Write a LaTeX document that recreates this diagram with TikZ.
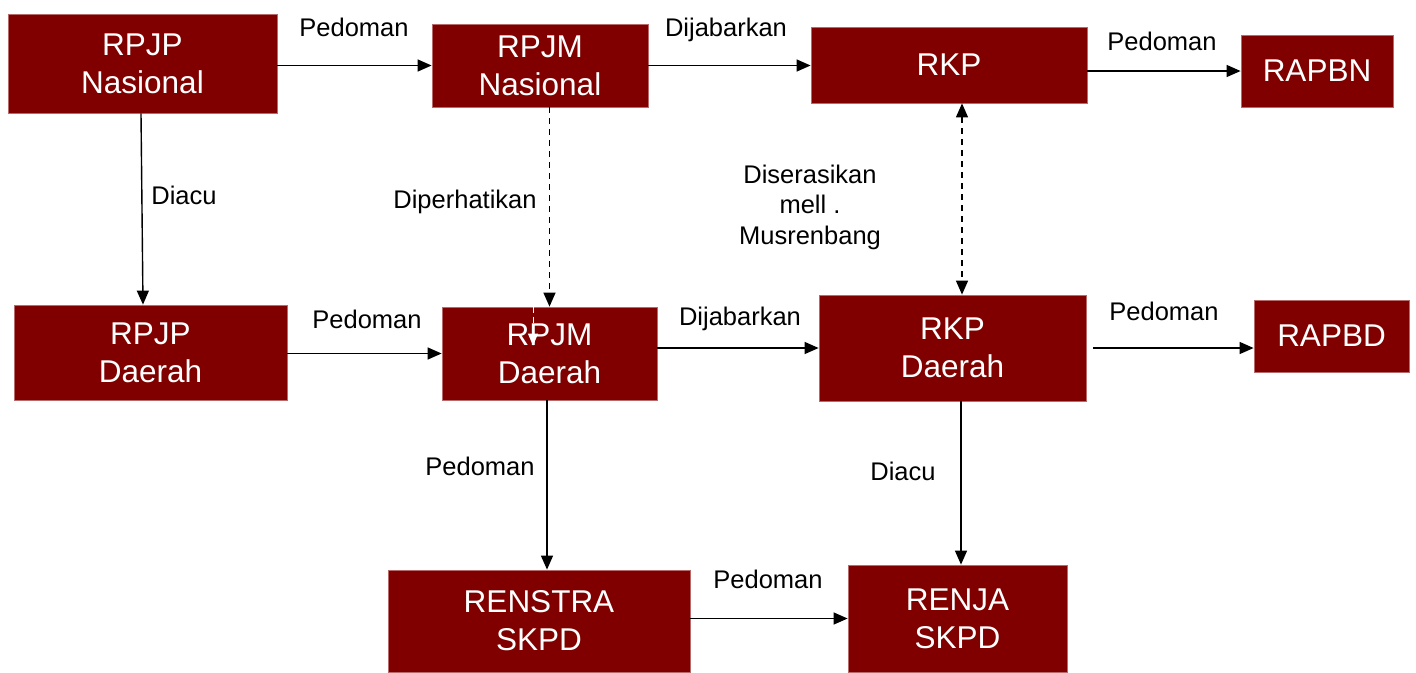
\documentclass[tikz,border=0pt]{standalone}
\usepackage{fontspec}
\setmainfont{Liberation Sans}
\usetikzlibrary{arrows.meta}
\definecolor{boxred}{HTML}{800000}
\definecolor{boxedge}{HTML}{B86A6A}
\begin{document}
\begin{tikzpicture}[x=1pt,y=-1pt,
  box/.style={draw=boxedge,line width=0.8pt,fill=boxred,text=white,align=center,
    inner sep=0pt,font=\fontsize{31.5}{38}\selectfont},
  lbl/.style={anchor=base,align=center,inner sep=0pt,font=\fontsize{25.5}{30.5}\selectfont},
  arr/.style={line width=1.4pt,-{Triangle[length=14pt,width=12pt]}},
  darr/.style={line width=1.4pt,dash pattern=on 6pt off 5pt,-{Triangle[length=14pt,width=12pt]}},
  dbl/.style={line width=1.4pt,dash pattern=on 6pt off 5pt,{Triangle[length=14pt,width=12pt]}-{Triangle[length=14pt,width=12pt]}}]
\useasboundingbox (0,0) rectangle (1416,672);
\node[box,minimum width=269pt,minimum height=99pt] (rpjpn) at (142.5,63.5) {RPJP\\Nasional};
\node[box,minimum width=216pt,minimum height=83pt] (rpjmn) at (540,65.5) {RPJM\\Nasional};
\node[box,minimum width=276pt,minimum height=76pt] (rkp) at (949,65) {RKP};
\node[box,minimum width=152pt,minimum height=72pt] (rapbn) at (1317,71) {RAPBN};
\node[box,minimum width=273pt,minimum height=95pt] (rpjpd) at (150.5,352.5) {RPJP\\Daerah};
\node[box,minimum width=215pt,minimum height=93pt] (rpjmd) at (549.5,353.5) {RPJM\\Daerah};
\node[box,minimum width=267pt,minimum height=106pt] (rkpd) at (952.5,348) {RKP\\Daerah};
\node[box,minimum width=155pt,minimum height=72pt] (rapbd) at (1331.5,336) {RAPBD};
\node[box,minimum width=302pt,minimum height=102pt] (renstra) at (539,621) {RENSTRA\\SKPD};
\node[box,minimum width=219pt,minimum height=107pt] (renja) at (957.5,618.5) {RENJA\\SKPD};

% connectors
\draw[arr] (rpjpn.east |- rpjmn.west) -- (rpjmn.west);
\draw[arr] (rpjmn.east) -- (rkp.west |- rpjmn.east);
\draw[arr] (rkp.east |- rapbn.west) -- (rapbn.west);
\draw[arr] ([xshift=-1.5pt]rpjpn.south) -- ([xshift=-7.5pt]rpjpd.north);
\draw[darr] (rpjmd.north |- rpjmn.south) -- (rpjmd.north);
\draw[dbl] ([xshift=13pt]rkp.south) -- ([xshift=9.5pt]rkpd.north);
\draw[arr] (rpjpd.east |- rpjmd.west) -- (rpjmd.west);
\draw[arr] (rpjmd.east |- rkpd.west) -- (rkpd.west);
\draw[arr] ([xshift=7pt]rkpd.east) -- (rapbd.west |- rkpd.east);
\draw[arr] ([xshift=-2.5pt]rpjmd.south) -- ([xshift=8pt]renstra.north);
\draw[arr] ([xshift=8.5pt]rkpd.south) -- ([xshift=3.5pt]renja.north);
\draw[arr] (renstra.east |- renja.west) -- (renja.west);
\coordinate (stray) at ([xshift=-16.5pt]rpjmd.north);
\draw[white,line width=1pt,dash pattern=on 6pt off 4pt,-{Triangle[length=12pt,width=10pt]}] (stray) -- ++(0,39);

% labels
\node[lbl] (l1) at (354,36) {Pedoman};
\node[lbl] (l2) at (726,36) {Dijabarkan};
\node[lbl] (l3) at (1162,50) {Pedoman};
\node[lbl] (l4) at (184,204) {Diacu};
\node[lbl] (l5) at (465,208) {Diperhatikan};
\node[lbl] (l6) at (810,244) {Diserasikan\\mell .\\Musrenbang};
\node[lbl] (l7) at (367,328) {Pedoman};
\node[lbl] (l8) at (740,325) {Dijabarkan};
\node[lbl] (l9) at (1164,320) {Pedoman};
\node[lbl] (l10) at (480,475) {Pedoman};
\node[lbl] (l11) at (903,480) {Diacu};
\node[lbl] (l12) at (768,588) {Pedoman};
\end{tikzpicture}
\end{document}
